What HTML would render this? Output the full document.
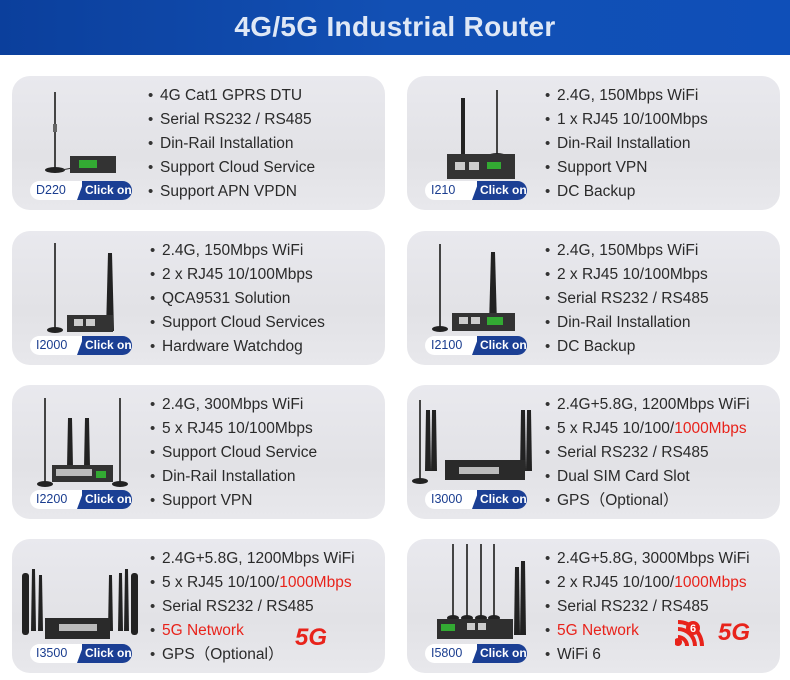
<!DOCTYPE html>
<html><head><meta charset="utf-8"><style>
*{margin:0;padding:0;box-sizing:border-box}
body{width:790px;height:680px;background:#fff;position:relative;overflow:hidden;font-family:"Liberation Sans",sans-serif}
.hd{position:absolute;left:0;top:0;width:790px;height:55px;background:linear-gradient(90deg,#0b3f9c,#1250b4 50%,#0f4fb8);}
.hd h1{position:absolute;left:0;width:790px;top:11px;text-align:center;color:#dfe8f6;font-size:28px;font-weight:bold;letter-spacing:0.3px}
.card{position:absolute;width:373px;height:134px;border-radius:18px;background:linear-gradient(180deg,#e9e9ee,#e2e2e6 60%,#e8e8ec);overflow:hidden}
.card svg{position:absolute;left:0;top:0}
.ul{position:absolute;left:136px;top:8px;font-size:15.5px;color:#2a2a2a;line-height:24px;list-style:none;white-space:nowrap}
.ul li::before{content:"•";display:inline-block;width:12px;font-size:15px;color:#333}
.r{color:#e8231b}
.bd{position:absolute;left:18px;top:105px;width:102px;height:19px;white-space:nowrap}
.bd .w{position:absolute;left:0;top:0;width:60px;height:19px;background:#fff;border-radius:10px 0 0 10px;color:#1a3d8f;font-size:12.5px;line-height:19px;padding-left:6px}
.bd .b{position:absolute;left:52px;top:0;width:50px;height:19px;background:#1b3f94;border-radius:0 10px 10px 0;color:#fff;font-size:12px;line-height:19px;padding-left:3px;font-weight:bold;white-space:nowrap;overflow:visible}
.bd .b::before{content:"";position:absolute;left:-5px;top:0;border-bottom:19px solid #1b3f94;border-left:7px solid transparent}
.g5{position:absolute;color:#e8231b;font-weight:bold;font-style:italic;font-size:24px;font-family:"Liberation Sans",sans-serif}
</style></head><body>
<div class="hd"><h1>4G/5G Industrial Router</h1></div>

<!-- D220 -->
<div class="card" style="left:12px;top:76px">
<svg width="140" height="134"><line x1="43" y1="16" x2="43" y2="92" stroke="#444" stroke-width="2"/><rect x="41" y="48" width="4" height="8" fill="#666"/><ellipse cx="43" cy="94" rx="10" ry="3" fill="#222"/><line x1="50" y1="94" x2="60" y2="92" stroke="#333"/><rect x="58" y="80" width="46" height="17" fill="#333"/><rect x="67" y="84" width="18" height="8" fill="#3a3"/></svg>
<ul class="ul"><li>4G Cat1 GPRS DTU</li><li>Serial RS232 / RS485</li><li>Din-Rail Installation</li><li>Support Cloud Service</li><li>Support APN VPDN</li></ul>
<div class="bd"><div class="w">D220</div><div class="b">Click on</div></div></div>

<!-- I210 -->
<div class="card" style="left:407px;top:76px">
<svg width="140" height="134"><line x1="56" y1="22" x2="56" y2="78" stroke="#222" stroke-width="4"/><line x1="90" y1="14" x2="90" y2="78" stroke="#444" stroke-width="2"/><ellipse cx="90" cy="80" rx="9" ry="3" fill="#222"/><rect x="40" y="78" width="68" height="25" fill="#333"/><rect x="48" y="86" width="10" height="8" fill="#ccc"/><rect x="62" y="86" width="10" height="8" fill="#ccc"/><rect x="80" y="86" width="14" height="7" fill="#3a3"/></svg>
<ul class="ul" style="left:138px"><li>2.4G, 150Mbps WiFi</li><li>1 x RJ45 10/100Mbps</li><li>Din-Rail Installation</li><li>Support VPN</li><li>DC Backup</li></ul>
<div class="bd"><div class="w">I210</div><div class="b">Click on</div></div></div>

<!-- I2000 -->
<div class="card" style="left:12px;top:231px">
<svg width="140" height="134"><line x1="43" y1="12" x2="43" y2="98" stroke="#444" stroke-width="2"/><ellipse cx="43" cy="99" rx="8" ry="3" fill="#222"/><path d="M96 22 L100 22 L102 100 L94 100Z" fill="#222"/><rect x="55" y="84" width="46" height="17" fill="#333"/><rect x="62" y="88" width="9" height="7" fill="#ccc"/><rect x="74" y="88" width="9" height="7" fill="#ccc"/></svg>
<ul class="ul" style="left:138px"><li>2.4G, 150Mbps WiFi</li><li>2 x RJ45 10/100Mbps</li><li>QCA9531 Solution</li><li>Support Cloud Services</li><li>Hardware Watchdog</li></ul>
<div class="bd"><div class="w">I2000</div><div class="b">Click on</div></div></div>

<!-- I2100 -->
<div class="card" style="left:407px;top:231px">
<svg width="140" height="134"><line x1="33" y1="13" x2="33" y2="97" stroke="#444" stroke-width="2"/><ellipse cx="33" cy="98" rx="8" ry="3" fill="#222"/><path d="M84 21 L88 21 L90 94 L82 94Z" fill="#222"/><rect x="45" y="82" width="63" height="18" fill="#333"/><rect x="52" y="86" width="9" height="7" fill="#ccc"/><rect x="64" y="86" width="9" height="7" fill="#ccc"/><rect x="80" y="86" width="16" height="8" fill="#3a3"/></svg>
<ul class="ul" style="left:138px"><li>2.4G, 150Mbps WiFi</li><li>2 x RJ45 10/100Mbps</li><li>Serial RS232 / RS485</li><li>Din-Rail Installation</li><li>DC Backup</li></ul>
<div class="bd"><div class="w">I2100</div><div class="b">Click on</div></div></div>

<!-- I2200 -->
<div class="card" style="left:12px;top:385px">
<svg width="140" height="134"><line x1="33" y1="13" x2="33" y2="98" stroke="#444" stroke-width="2"/><line x1="108" y1="13" x2="108" y2="98" stroke="#444" stroke-width="2"/><ellipse cx="33" cy="99" rx="8" ry="3" fill="#222"/><ellipse cx="108" cy="99" rx="8" ry="3" fill="#222"/><path d="M56 33 L60 33 L61 82 L55 82Z" fill="#222"/><path d="M73 33 L77 33 L78 82 L72 82Z" fill="#222"/><rect x="40" y="80" width="61" height="17" fill="#333"/><rect x="44" y="84" width="36" height="7" fill="#bbb"/><rect x="84" y="86" width="10" height="7" fill="#3a3"/></svg>
<ul class="ul" style="left:138px"><li>2.4G, 300Mbps WiFi</li><li>5 x RJ45 10/100Mbps</li><li>Support Cloud Service</li><li>Din-Rail Installation</li><li>Support VPN</li></ul>
<div class="bd"><div class="w">I2200</div><div class="b">Click on</div></div></div>

<!-- I3000 -->
<div class="card" style="left:407px;top:385px">
<svg width="140" height="134"><line x1="13" y1="15" x2="13" y2="94" stroke="#444" stroke-width="2"/><ellipse cx="13" cy="96" rx="8" ry="3" fill="#222"/><path d="M19 25 L23 25 L24 86 L18 86Z" fill="#222"/><path d="M25 25 L29 25 L30 86 L24 86Z" fill="#222"/><path d="M114 25 L118 25 L119 86 L113 86Z" fill="#222"/><path d="M120 25 L124 25 L125 86 L119 86Z" fill="#222"/><rect x="38" y="75" width="80" height="20" fill="#2a2a2a"/><rect x="52" y="82" width="40" height="7" fill="#bbb"/></svg>
<ul class="ul" style="left:138px"><li>2.4G+5.8G, 1200Mbps WiFi</li><li>5 x RJ45 10/100/<span class="r">1000Mbps</span></li><li>Serial RS232 / RS485</li><li>Dual SIM Card Slot</li><li>GPS（Optional）</li></ul>
<div class="bd"><div class="w">I3000</div><div class="b">Click on</div></div></div>

<!-- I3500 -->
<div class="card" style="left:12px;top:539px">
<svg width="140" height="134"><rect x="10" y="34" width="7" height="62" rx="3" fill="#222"/><path d="M20 30 L23 30 L24 92 L19 92Z" fill="#222"/><path d="M27 36 L30 36 L31 92 L26 92Z" fill="#222"/><path d="M97 36 L100 36 L101 92 L96 92Z" fill="#222"/><path d="M107 34 L110 34 L111 92 L106 92Z" fill="#222"/><path d="M113 30 L116 30 L117 92 L112 92Z" fill="#222"/><rect x="119" y="34" width="7" height="62" rx="3" fill="#222"/><rect x="33" y="79" width="65" height="21" fill="#2a2a2a"/><rect x="47" y="85" width="38" height="7" fill="#bbb"/></svg>
<ul class="ul" style="left:138px"><li>2.4G+5.8G, 1200Mbps WiFi</li><li>5 x RJ45 10/100/<span class="r">1000Mbps</span></li><li>Serial RS232 / RS485</li><li class="r">5G Network</li><li>GPS（Optional）</li></ul>
<div class="g5" style="left:283px;top:85px">5G</div>
<div class="bd"><div class="w">I3500</div><div class="b">Click on</div></div></div>

<!-- I5800 -->
<div class="card" style="left:407px;top:539px">
<svg width="140" height="134"><g stroke="#444" stroke-width="2"><line x1="46" y1="5" x2="46" y2="78"/><line x1="60" y1="5" x2="60" y2="78"/><line x1="74" y1="5" x2="74" y2="78"/><line x1="87" y1="5" x2="87" y2="78"/></g><g fill="#222"><ellipse cx="46" cy="79" rx="6" ry="3"/><ellipse cx="60" cy="79" rx="6" ry="3"/><ellipse cx="74" cy="79" rx="6" ry="3"/><ellipse cx="87" cy="79" rx="6" ry="3"/><path d="M108 28 L112 28 L113 96 L107 96Z"/><path d="M114 22 L118 22 L119 96 L113 96Z"/></g><rect x="30" y="80" width="76" height="20" fill="#2f2f2f"/><rect x="34" y="85" width="14" height="7" fill="#3a3"/><rect x="60" y="84" width="8" height="7" fill="#ccc"/><rect x="71" y="84" width="8" height="7" fill="#ccc"/></svg>
<ul class="ul" style="left:138px"><li>2.4G+5.8G, 3000Mbps WiFi</li><li>2 x RJ45 10/100/<span class="r">1000Mbps</span></li><li>Serial RS232 / RS485</li><li class="r">5G Network</li><li>WiFi 6</li></ul>
<svg width="30" height="30" style="left:268px;top:80px"><path d="M3 27 a4 4 0 1 1 0.1 0Z M3 16 a11 11 0 0 1 11 11 h-4 a7 7 0 0 0 -7 -7Z M3 8 a19 19 0 0 1 19 19 h-4 a15 15 0 0 0 -15 -15Z M3 1 a26 26 0 0 1 26 26 h-4 a22 22 0 0 0 -22 -22Z" fill="#e8231b"/><circle cx="18" cy="9" r="7" fill="#e8231b"/><text x="18" y="13" font-size="11" font-weight="bold" fill="#fff" text-anchor="middle" font-family="Liberation Sans">6</text></svg>
<div class="g5" style="left:311px;top:80px">5G</div>
<div class="bd"><div class="w">I5800</div><div class="b">Click on</div></div></div>
</body></html>
